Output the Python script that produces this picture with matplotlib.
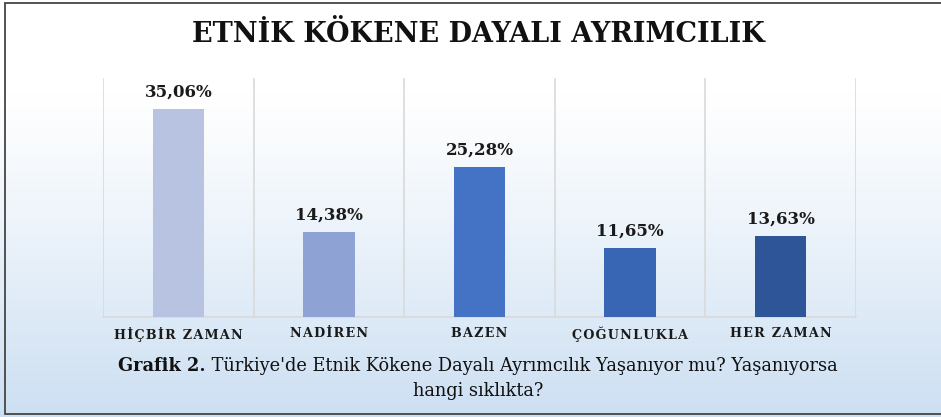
import matplotlib
matplotlib.use("Agg")
import matplotlib.pyplot as plt
import numpy as np

# ---------------------------------------------------------------------------
# Data
# ---------------------------------------------------------------------------
categories = ["HİÇBİR ZAMAN", "NADİREN", "BAZEN", "ÇOĞUNLUKLA", "HER ZAMAN"]
values = [35.06, 14.38, 25.28, 11.65, 13.63]
value_labels = ["35,06%", "14,38%", "25,28%", "11,65%", "13,63%"]
bar_colors = ["#b7c3e1", "#8fa2d4", "#4472c4", "#3865b4", "#2e5597"]

title = "ETNİK KÖKENE DAYALI AYRIMCILIK"
caption_bold = "Grafik 2."
caption_rest = " Türkiye'de Etnik Kökene Dayalı Ayrımcılık Yaşanıyor mu? Yaşanıyorsa"
caption_line2 = "hangi sıklıkta?"

SERIF = ["DejaVu Serif", "DejaVu Sans"]
W, H = 941, 417


def spaced(s, sep="\u200a"):
    return sep.join(s)


fig = plt.figure(figsize=(W / 100, H / 100), dpi=100)

# background gradient (white at top -> light blue at bottom)
bg = fig.add_axes([0, 0, 1, 1])
bg.set_axis_off()
t = np.linspace(0, 1, 256)
frac = np.clip((t - 0.22) / 0.78, 0, 1) ** 1.15
top = np.array([1.0, 1.0, 1.0])
bot = np.array([0.80, 0.875, 0.95])
grad = top[None, :] * (1 - frac[:, None]) + bot[None, :] * frac[:, None]
bg.imshow(grad[:, None, :], aspect="auto", extent=[0, 1, 0, 1], origin="upper")
bg.set_xlim(0, W)
bg.set_ylim(H, 0)
# frame: top, left and bottom edges only
bg.plot([W, 5, 5, W], [2.5, 2.5, 413.5, 413.5], color="#454545", lw=1.3,
        solid_joinstyle="miter")
bg.set_xlim(0, W)
bg.set_ylim(H, 0)
bg.images[0].set_extent([0, W, H, 0])

# main axes
x0, x1, y_top, y_bot = 103, 856, 78, 317
ax = fig.add_axes([x0 / W, 1 - y_bot / H, (x1 - x0) / W, (y_bot - y_top) / H])
ax.set_facecolor("none")
x = np.arange(len(categories))
ax.bar(x, values, width=0.34, color=bar_colors, zorder=3)
ax.set_xlim(-0.5, len(categories) - 0.5)
ax.set_ylim(0, 40.3)
for b in np.arange(-0.5, len(categories), 1.0):
    ax.axvline(b, color="#d9d9d9", lw=1.2, zorder=1)
for s in ["top", "right", "left"]:
    ax.spines[s].set_visible(False)
ax.spines["bottom"].set_color("#d9d9d9")
ax.spines["bottom"].set_linewidth(1.2)
ax.set_yticks([])
ax.set_xticks(x)
ax.set_xticklabels([spaced(c) for c in categories], family=SERIF,
                   fontweight="bold", fontsize=9.2, color="#1a1a1a")
ax.tick_params(axis="x", length=0, pad=7)

for xi, v, lab in zip(x, values, value_labels):
    ax.annotate(lab, (xi, v), xytext=(0, 6), textcoords="offset points",
                ha="center", va="bottom", family=SERIF, fontweight="bold",
                fontsize=12, color="#1a1a1a")

# title
fig.text(478 / W, 1 - 35 / H, title, ha="center", va="center",
         family=SERIF, fontweight="bold", fontsize=19.5, color="#111111")

# caption (bold prefix + regular text, centred as one line)
renderer = fig.canvas.get_renderer()
cy1 = 1 - 366 / H
tb = fig.text(0, cy1, caption_bold, ha="left", va="center", family=SERIF,
              fontweight="bold", fontsize=12.8, color="#111111")
tr = fig.text(0, cy1, caption_rest, ha="left", va="center", family=SERIF,
              fontsize=12.8, color="#111111")
wb = tb.get_window_extent(renderer).width / W
wr = tr.get_window_extent(renderer).width / W
start = 478 / W - (wb + wr) / 2
tb.set_x(start)
tr.set_x(start + wb)
fig.text(478 / W, 1 - 391 / H, caption_line2, ha="center", va="center",
         family=SERIF, fontsize=12.8, color="#111111")

fig.savefig("out.png", dpi=100)
